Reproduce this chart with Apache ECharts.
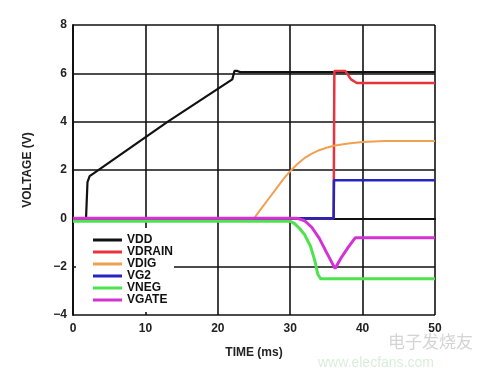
<!DOCTYPE html>
<html>
<head>
<meta charset="utf-8">
<script src="https://cdn.jsdelivr.net/npm/echarts@6/dist/echarts.min.js"></script>
<style>html,body{margin:0;padding:0;background:#fff}#c{width:495px;height:375px}</style>
</head>
<body>
<div id="c"></div>
<script>
var seriesNames = ['VDD', 'VDRAIN', 'VDIG', 'VG2', 'VNEG', 'VGATE'];
var xTicks = [0, 10, 20, 30, 40, 50];
var yTicks = [-4, -2, 0, 2, 4, 6, 8];

var vdd = [[0,0],[1.8,0],[2.0,1.5],[2.3,1.75],[2.8,1.85],[13.1,4.0],[22.0,5.75],[22.3,6.1],[22.7,6.1],[23.1,6.05],[50,6.05]];
var vdrain = [[0,0],[36,0],[36.1,6.1],[37.6,6.1],[38.4,5.75],[39.2,5.6],[50,5.6]];
var vdig = [[0,0],[25,0],[26,0.4],[27,0.8],[28,1.2],[29,1.6],[30,1.95],[31,2.25],[32,2.5],[33,2.68],[34,2.82],[35,2.92],[36,3.0],[38,3.1],[40,3.16],[43,3.2],[50,3.2]];
var vg2 = [[0,0],[36,0],[36.05,1.58],[50,1.58]];
var vneg = [[0,-0.12],[30,-0.12],[30.6,-0.22],[31.3,-0.42],[32,-0.68],[32.8,-1.15],[33.4,-1.75],[33.8,-2.3],[34.2,-2.5],[50,-2.5]];
var vgate = [[0,0],[31,0],[32,-0.1],[33,-0.38],[34,-0.82],[35,-1.4],[36.2,-2.08],[37,-1.65],[38,-1.2],[39,-0.8],[50,-0.8]];

var dataSets = [vdd, vdrain, vdig, vg2, vneg, vgate];
var colors = ['#111111', '#e8323c', '#f0a050', '#2424c4', '#4ee24e', '#d432d4'];
var widths = [2.2, 2.5, 2, 2.5, 3, 3];

var chart = echarts.init(document.getElementById('c'), null, {renderer: 'canvas'});
var font = 'Liberation Sans, Arial, sans-serif';
chart.setOption({
  animation: false,
  backgroundColor: '#fff',
  grid: {left: 73, right: 60, top: 25, bottom: 60, containLabel: false},
  xAxis: {
    type: 'value', min: xTicks[0], max: xTicks[xTicks.length-1], interval: 10,
    name: 'TIME (ms)', nameLocation: 'middle', nameGap: 32,
    nameTextStyle: {fontFamily: font, fontWeight: 'bold', fontSize: 12, color: '#222'},
    axisLine: {show: true, lineStyle: {color: '#111', width: 2}},
    axisTick: {show: false},
    axisLabel: {fontFamily: font, fontWeight: 'bold', fontSize: 12, color: '#222', margin: 8},
    splitLine: {show: true, lineStyle: {color: '#111', width: 1.6}}
  },
  yAxis: {
    type: 'value', min: yTicks[0], max: yTicks[yTicks.length-1], interval: 2,
    name: 'VOLTAGE (V)', nameLocation: 'middle', nameGap: 39,
    nameTextStyle: {fontFamily: font, fontWeight: 'bold', fontSize: 12, color: '#222'},
    axisLine: {show: true, lineStyle: {color: '#111', width: 2}},
    axisTick: {show: false},
    axisLabel: {fontFamily: font, fontWeight: 'bold', fontSize: 12, color: '#222', margin: 6,
      formatter: function(v){ return v < 0 ? '\u2212' + (-v) : String(v); }},
    splitLine: {show: true, lineStyle: {color: '#111', width: 1.6}}
  },
  legend: {
    orient: 'vertical', left: 76, top: 228,
    padding: [6, 1, 6, 17], itemGap: 0, itemWidth: 29, itemHeight: 3,
    backgroundColor: '#fff',
    icon: 'rect',
    textStyle: {fontFamily: font, fontWeight: 'bold', fontSize: 12, color: '#111', lineHeight: 12},
    data: seriesNames
  },
  graphic: [
    {type: 'text', left: 388, top: 333, style: {text: '电子发烧友', fontSize: 17, fill: 'rgba(170,170,170,0.5)', fontFamily: 'Noto Sans CJK SC'}},
    {type: 'text', left: 318, top: 356, style: {text: 'www.elecfans.com', fontSize: 14, fill: 'rgba(170,215,170,0.45)', fontFamily: font}}
  ],
  series: seriesNames.map(function(n, i){
    return {
      name: n, type: 'line', data: dataSets[i], showSymbol: false, symbol: 'none',
      color: colors[i], lineStyle: {color: colors[i], width: widths[i]}, z: 2 + i
    };
  })
});
</script>
</body>
</html>
